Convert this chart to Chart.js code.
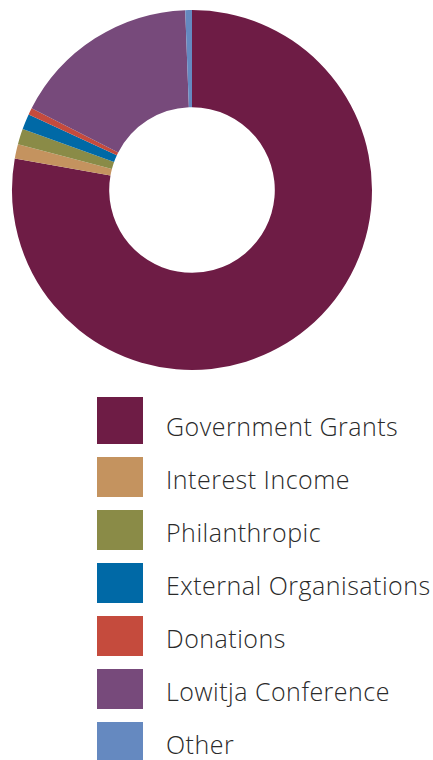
<!DOCTYPE html>
<html>
<head>
<meta charset="utf-8">
<script src="https://cdn.jsdelivr.net/npm/chart.js@4/dist/chart.umd.min.js"></script>
<style>
  html, body { margin: 0; padding: 0; background: #fff; }
  #wrap { position: relative; width: 433px; height: 760px; overflow: hidden; }
  #chart { position: absolute; left: 0; top: 0; }
  #legend { position: absolute; left: 97px; top: 397px; margin: 0; padding: 0; list-style: none; }
  #legend li { position: relative; height: 53px; }
  #legend li:first-child { height: 60px; }
  #legend .box { position: absolute; left: 0; bottom: 13px; width: 46px; height: 40px; }
  #legend li:first-child .box { height: 47px; }
  #legend .txt { position: absolute; left: 69px; bottom: 11px; height: 40px; display: flex; align-items: center;
                 font-family: "Open Sans", sans-serif; font-weight: 300;
                 font-size: 25px; letter-spacing: 0.5px; color: #2a2a2a; white-space: nowrap; }
</style>
</head>
<body>
<div id="wrap">
  <canvas id="chart" width="433" height="380"></canvas>
  <ul id="legend"></ul>
</div>
<script>
// Income sources (share of total income, %)
const categories = [
  "Government Grants",
  "Interest Income",
  "Philanthropic",
  "External Organisations",
  "Donations",
  "Lowitja Conference",
  "Other"
];
const shares = [77.8, 1.3, 1.4, 1.4, 0.6, 16.9, 0.6];
const sliceColors = ["#6e1c45", "#c4935f", "#8a8b47", "#0069a6", "#c54b3d", "#774a7b", "#6589c0"];

// Builds the legend list from the chart's own legend items
const htmlLegend = {
  id: "htmlLegend",
  afterUpdate(chart) {
    const ul = document.getElementById("legend");
    ul.innerHTML = "";
    const items = chart.options.plugins.legend.labels.generateLabels(chart);
    items.forEach(item => {
      const li = document.createElement("li");
      const box = document.createElement("span");
      box.className = "box";
      box.style.background = item.fillStyle;
      const txt = document.createElement("span");
      txt.className = "txt";
      txt.textContent = item.text;
      li.appendChild(box);
      li.appendChild(txt);
      ul.appendChild(li);
    });
  }
};

new Chart(document.getElementById("chart"), {
  type: "doughnut",
  data: {
    labels: categories,
    datasets: [{
      data: shares,
      backgroundColor: sliceColors,
      borderWidth: 0,
      hoverOffset: 0
    }]
  },
  options: {
    responsive: false,
    animation: false,
    cutout: "46%",
    layout: { padding: { left: 12, right: 61, top: 10, bottom: 10 } },
    plugins: {
      legend: { display: false },
      tooltip: { enabled: false }
    }
  },
  plugins: [htmlLegend]
});
</script>
</body>
</html>
